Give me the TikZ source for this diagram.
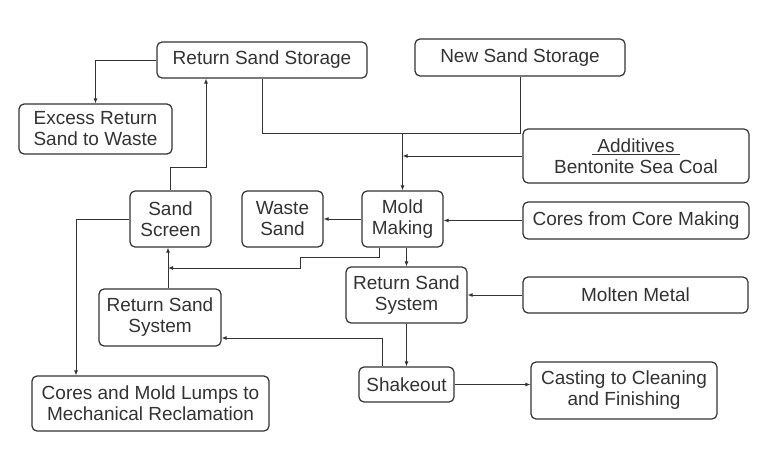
\documentclass[tikz,border=0pt]{standalone}
\usepackage{fontspec}
\setmainfont{Liberation Sans}
\usetikzlibrary{arrows.meta}
\definecolor{ink}{HTML}{333333}

\begin{document}
\begin{tikzpicture}[x=1pt,y=-1pt,line width=1.2pt,
  box/.style={draw=ink,text=ink,rounded corners=5pt,align=center,inner sep=0pt,font=\fontsize{19}{21}\selectfont},
  flow/.style={draw=ink,line width=.9pt,-{Latex[length=5pt,width=4pt]}},
  line/.style={draw=ink,line width=.9pt}]
\path[use as bounding box,fill=white] (0,0) rectangle (773,457);
% boxes
\node[box,minimum width=210pt,minimum height=36pt] (rss) at (262,60) {Return Sand Storage};
\node[box,minimum width=210pt,minimum height=37pt] (nss) at (520,57.5) {New Sand Storage};
\node[box,minimum width=153pt,minimum height=50pt] (exc) at (95.5,129) {Excess Return\\Sand to Waste};
\node[box,minimum width=226pt,minimum height=54pt] (add) at (636,156) {\underline{\ Additives\ }\\Bentonite Sea Coal};
\node[box,minimum width=81pt,minimum height=56pt] (ss) at (170.5,219) {Sand\\Screen};
\node[box,minimum width=81pt,minimum height=56pt] (ws) at (282.5,219) {Waste\\Sand};
\node[box,minimum width=81pt,minimum height=56pt] (mm) at (402.5,219) {Mold\\Making};
\node[box,minimum width=226pt,minimum height=37pt] (cores) at (636,220.5) {Cores from Core Making};
\node[box,minimum width=121pt,minimum height=56pt] (rsr) at (406.5,295) {Return Sand\\System};
\node[box,minimum width=225pt,minimum height=36pt] (molten) at (635.5,295) {Molten Metal};
\node[box,minimum width=122pt,minimum height=57pt] (rsl) at (160,317.5) {Return Sand\\System};
\node[box,minimum width=95pt,minimum height=35pt] (sk) at (406.5,384.5) {Shakeout};
\node[box,minimum width=186pt,minimum height=57pt] (cast) at (624,390.5) {Casting to Cleaning\\and Finishing};
\node[box,minimum width=237pt,minimum height=55pt] (cml) at (150.5,403.5) {Cores and Mold Lumps to\\Mechanical Reclamation};
% junctions
\coordinate (j1) at (mm.north |- 0,133);
\coordinate (k1) at (206,167);
\coordinate (k2) at (168,268);
\coordinate (k3) at (382,338);
\coordinate (k4) at (76,219);
% connectors
\draw[flow] (rss.west) -| (exc.north);
\draw[flow] (ss.north) |- (k1) -- (k1 |- rss.south);
\draw[line] (rss.south) |- (j1);
\draw[line] (nss.south) |- (j1);
\draw[flow] (j1) -- (mm.north);
\draw[flow] (add.west) -- (add.west -| j1);
\draw[flow] (cores.west) -- (cores.west -| mm.east);
\draw[flow] (mm.west) -- (ws.east);
\draw[flow] ([xshift=-23pt]mm.south) -- ++(0,10) -| (300,268) -- (k2);
\draw[flow] (rsl.north -| k2) -- (ss.south -| k2);
\draw[flow] (mm.south -| rsr.north) -- (rsr.north);
\draw[flow] (molten.west) -- (rsr.east);
\draw[flow] (rsr.south) -- (sk.north);
\draw[flow] (sk.north -| k3) -- (k3) -- (k3 -| rsl.east);
\draw[flow] (sk.east) -- (sk.east -| cast.west);
\draw[flow] (ss.west) -- (k4) -- (k4 |- cml.north);
\end{tikzpicture}
\end{document}
